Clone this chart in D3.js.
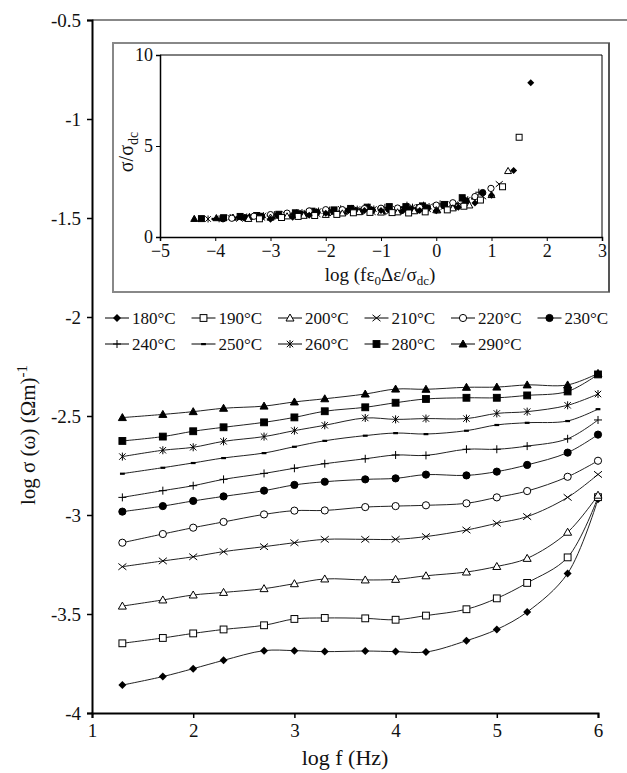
<!DOCTYPE html>
<html lang="en">
  <head>
    <meta charset="UTF-8">
    <title>Conductivity vs frequency</title>
    <script src="https://d3js.org/d3.v7.min.js"></script>
    <style>
      body { margin: 0; background: #fff; }
      text { font-family: "Liberation Serif", "Times New Roman", serif; fill: #111; }
    </style>
  </head>
  <body>

<script>
  // main chart: log f vs log sigma for each temperature
  const logF = [1.3, 1.7, 2.0, 2.3, 2.7, 3.0, 3.3, 3.7, 4.0, 4.3, 4.7, 5.0, 5.3, 5.7, 6.0];
  const temps = ["180°C", "190°C", "200°C", "210°C", "220°C", "230°C",
                 "240°C", "250°C", "260°C", "280°C", "290°C"];
  const markers = ["diamond", "squareOpen", "triOpen", "x", "circleOpen", "circle",
                   "plus", "dash", "star", "square", "tri"];

  const s180 = [-3.859, -3.816, -3.776, -3.734, -3.685, -3.685, -3.690, -3.687, -3.690, -3.692, -3.635, -3.578, -3.490, -3.295, -2.920];
  const s190 = [-3.648, -3.621, -3.598, -3.578, -3.557, -3.525, -3.520, -3.522, -3.529, -3.508, -3.476, -3.421, -3.343, -3.214, -2.910];
  const s200 = [-3.460, -3.429, -3.404, -3.391, -3.372, -3.347, -3.323, -3.328, -3.325, -3.307, -3.288, -3.260, -3.219, -3.087, -2.900];
  const s210 = [-3.261, -3.232, -3.211, -3.185, -3.160, -3.140, -3.123, -3.123, -3.123, -3.109, -3.076, -3.042, -3.008, -2.911, -2.795];
  const s220 = [-3.140, -3.096, -3.064, -3.035, -2.997, -2.978, -2.977, -2.960, -2.955, -2.951, -2.941, -2.911, -2.879, -2.807, -2.726];
  const s230 = [-2.983, -2.955, -2.929, -2.906, -2.877, -2.848, -2.832, -2.820, -2.815, -2.796, -2.800, -2.781, -2.747, -2.685, -2.594];
  const s240 = [-2.911, -2.877, -2.852, -2.820, -2.790, -2.764, -2.741, -2.716, -2.697, -2.699, -2.668, -2.668, -2.652, -2.615, -2.520];
  const s250 = [-2.791, -2.761, -2.737, -2.712, -2.687, -2.655, -2.625, -2.599, -2.586, -2.591, -2.574, -2.545, -2.534, -2.525, -2.465];
  const s260 = [-2.705, -2.673, -2.658, -2.628, -2.604, -2.574, -2.547, -2.510, -2.517, -2.513, -2.513, -2.487, -2.478, -2.446, -2.389];
  const s280 = [-2.626, -2.604, -2.577, -2.557, -2.532, -2.507, -2.476, -2.456, -2.433, -2.414, -2.408, -2.408, -2.396, -2.376, -2.290];
  const s290 = [-2.508, -2.492, -2.478, -2.461, -2.450, -2.429, -2.413, -2.389, -2.364, -2.365, -2.355, -2.354, -2.343, -2.343, -2.285];
  const mainSeries = [s180, s190, s200, s210, s220, s230, s240, s250, s260, s280, s290];

  const yTicks = [-4, -3.5, -3, -2.5, -2, -1.5, -1, -0.5];
  const xTicks = [1, 2, 3, 4, 5, 6];

  // inset: scaled conductivity vs scaled frequency
  const ix180 = [-3.0, -2.6, -2.3, -2.0, -1.6, -1.3, -1.0, -0.6, -0.3, 0.0, 0.4, 0.7, 1.0, 1.4, 1.71];
  const iy180 = [0.98, 1.08, 1.19, 1.31, 1.46, 1.46, 1.45, 1.45, 1.45, 1.44, 1.64, 1.87, 2.29, 3.65, 8.48];
  const ix190 = [-3.2, -2.8, -2.5, -2.2, -1.8, -1.5, -1.2, -0.8, -0.5, -0.2, 0.2, 0.5, 0.8, 1.2, 1.5];
  const iy190 = [1.0, 1.07, 1.13, 1.18, 1.24, 1.33, 1.35, 1.34, 1.32, 1.38, 1.49, 1.69, 2.03, 2.76, 5.48];
  const ix200 = [-3.4, -3.0, -2.7, -2.4, -2.0, -1.7, -1.4, -1.0, -0.7, -0.4, 0.0, 0.3, 0.6, 1.0, 1.3];
  const iy200 = [1.0, 1.07, 1.14, 1.17, 1.22, 1.30, 1.37, 1.35, 1.36, 1.42, 1.48, 1.58, 1.74, 2.31, 3.63];
  const ix210 = [-3.56, -3.16, -2.86, -2.56, -2.16, -1.86, -1.56, -1.16, -0.86, -0.56, -0.16, 0.14, 0.44, 0.84, 1.14];
  const iy210 = [1.0, 1.06, 1.12, 1.19, 1.26, 1.32, 1.37, 1.37, 1.37, 1.42, 1.53, 1.65, 1.79, 2.23, 2.91];
  const ix220 = [-3.7, -3.3, -3.0, -2.7, -2.3, -2.0, -1.7, -1.3, -1.0, -0.7, -0.3, 0.0, 0.3, 0.7, 0.99];
  const iy220 = [1.03, 1.14, 1.23, 1.31, 1.43, 1.50, 1.50, 1.56, 1.58, 1.59, 1.63, 1.75, 1.88, 2.22, 2.67];
  const ix230 = [-3.86, -3.46, -3.16, -2.86, -2.46, -2.16, -1.86, -1.46, -1.16, -0.86, -0.46, -0.16, 0.14, 0.54, 0.84];
  const iy230 = [1.0, 1.06, 1.13, 1.19, 1.27, 1.36, 1.41, 1.45, 1.47, 1.53, 1.52, 1.59, 1.72, 1.98, 2.44];
  const ix240 = [-3.93, -3.53, -3.23, -2.93, -2.53, -2.23, -1.93, -1.53, -1.23, -0.93, -0.53, -0.23, 0.07, 0.47, 0.77];
  const iy240 = [1.0, 1.07, 1.14, 1.23, 1.32, 1.40, 1.48, 1.57, 1.64, 1.63, 1.75, 1.75, 1.82, 1.98, 2.46];
  const ix250 = [-4.03, -3.63, -3.33, -3.03, -2.63, -2.33, -2.03, -1.63, -1.33, -1.03, -0.63, -0.33, -0.03, 0.37, 0.67];
  const iy250 = [1.0, 1.07, 1.13, 1.19, 1.26, 1.36, 1.46, 1.55, 1.60, 1.58, 1.64, 1.75, 1.80, 1.84, 2.12];
  const ix260 = [-4.13, -3.73, -3.43, -3.13, -2.73, -2.43, -2.13, -1.73, -1.43, -1.13, -0.73, -0.43, -0.13, 0.27, 0.57];
  const iy260 = [0.99, 1.07, 1.10, 1.18, 1.25, 1.34, 1.43, 1.55, 1.53, 1.54, 1.54, 1.64, 1.67, 1.80, 2.05];
  const ix280 = [-4.25, -3.85, -3.55, -3.25, -2.85, -2.55, -2.25, -1.85, -1.55, -1.25, -0.85, -0.55, -0.25, 0.15, 0.47];
  const iy280 = [1.01, 1.06, 1.13, 1.18, 1.25, 1.33, 1.42, 1.49, 1.57, 1.64, 1.67, 1.67, 1.71, 1.79, 2.16];
  const ix290 = [-4.38, -3.98, -3.68, -3.38, -2.98, -2.68, -2.38, -1.98, -1.68, -1.38, -0.98, -0.68, -0.38, 0.02, 0.32];
  const iy290 = [1.0, 1.04, 1.07, 1.11, 1.14, 1.20, 1.25, 1.32, 1.40, 1.40, 1.43, 1.43, 1.47, 1.47, 1.67];
  const insetX = [ix180, ix190, ix200, ix210, ix220, ix230, ix240, ix250, ix260, ix280, ix290];
  const insetY = [iy180, iy190, iy200, iy210, iy220, iy230, iy240, iy250, iy260, iy280, iy290];

  const insetXTicks = [-5, -4, -3, -2, -1, 0, 1, 2, 3];
  const insetYTicks = [0, 5, 10];

  const w = 627;
  const h = 773;

  const xScale = d3.scaleLinear().domain([1, 6]).range([92, 598]);
  const yScale = d3.scaleLinear().domain([-4, -0.5]).range([713, 20]);

  const ixScale = d3.scaleLinear().domain([-5, 3]).range([160, 602]);
  const iyScale = d3.scaleLinear().domain([0, 10]).range([237, 55]);

  const svg = d3.select("body")
                .append("svg")
                .attr("width", w)
                .attr("height", h);

  // draws one marker of the given kind centred on x,y
  function marker(g, kind, x, y, s) {
    const k = s / 2;
    const m = g.append("g").attr("transform", `translate(${x},${y})`);
    const line = (x1, y1, x2, y2) => m.append("line")
        .attr("x1", x1).attr("y1", y1).attr("x2", x2).attr("y2", y2)
        .attr("stroke", "#000").attr("stroke-width", 1);
    if (kind === "diamond") {
      m.append("path").attr("d", `M0,${-k}L${k},0L0,${k}L${-k},0Z`).attr("fill", "#000");
    } else if (kind === "squareOpen" || kind === "square") {
      m.append("rect").attr("x", -k * 0.85).attr("y", -k * 0.85)
        .attr("width", k * 1.7).attr("height", k * 1.7)
        .attr("fill", kind === "square" ? "#000" : "#fff").attr("stroke", "#000");
    } else if (kind === "triOpen" || kind === "tri") {
      m.append("path").attr("d", `M0,${-k}L${k},${k * 0.75}L${-k},${k * 0.75}Z`)
        .attr("fill", kind === "tri" ? "#000" : "#fff").attr("stroke", "#000");
    } else if (kind === "circleOpen" || kind === "circle") {
      m.append("circle").attr("r", k * 0.9)
        .attr("fill", kind === "circle" ? "#000" : "#fff").attr("stroke", "#000");
    } else if (kind === "x") {
      line(-k, -k * 0.8, k, k * 0.8);
      line(-k, k * 0.8, k, -k * 0.8);
    } else if (kind === "plus") {
      line(-k, 0, k, 0);
      line(0, -k, 0, k);
    } else if (kind === "dash") {
      m.append("rect").attr("x", -k * 0.6).attr("y", -1).attr("width", k * 1.2).attr("height", 2.2).attr("fill", "#000");
    } else if (kind === "star") {
      line(-k * 0.8, -k * 0.8, k * 0.8, k * 0.8);
      line(-k * 0.8, k * 0.8, k * 0.8, -k * 0.8);
      line(0, -k, 0, k);
    }
  }

  // main plot frame
  svg.append("line")
     .attr("x1", 92).attr("x2", w).attr("y1", 20).attr("y2", 20)
     .attr("stroke", "#888").attr("stroke-width", 2);

  const xAxis = d3.axisBottom(xScale).tickValues(xTicks).tickFormat(d3.format("d")).tickSizeOuter(0).tickSize(5).tickPadding(6);
  const gx = svg.append("g")
     .attr("transform", `translate(0, 713)`)
     .call(xAxis);

  const yAxis = d3.axisLeft(yScale).tickValues(yTicks).tickFormat(d => d).tickSizeOuter(0).tickSize(5).tickPadding(6);
  const gy = svg.append("g")
     .attr("transform", `translate(92, 0)`)
     .call(yAxis);

  [gx, gy].forEach(g => {
    g.select(".domain").attr("stroke", "#000").attr("stroke-width", 2);
    g.selectAll(".tick line").attr("stroke", "#000").attr("stroke-width", 1.5);
    g.selectAll(".tick text").attr("font-family", "Liberation Serif").attr("font-size", 19).attr("fill", "#111");
  });

  svg.append("text")
     .attr("x", 345).attr("y", 765)
     .attr("text-anchor", "middle").attr("font-size", 22)
     .text("log f (Hz)");

  const yl = svg.append("text")
     .attr("transform", "translate(35, 435) rotate(-90)")
     .attr("text-anchor", "middle").attr("font-size", 21);
  yl.append("tspan").text("log σ (ω) (Ωm)");
  yl.append("tspan").attr("dy", -8).attr("font-size", 15).text("-1");

  // series curves and markers
  const curve = d3.line()
                  .x(d => xScale(d[0]))
                  .y(d => yScale(d[1]))
                  .curve(d3.curveCatmullRom.alpha(0.5));

  mainSeries.forEach((vals, i) => {
    const pts = logF.map((f, j) => [f, vals[j]]);
    svg.append("path")
       .attr("d", curve(pts))
       .attr("fill", "none")
       .attr("stroke", "#222")
       .attr("stroke-width", 1);
  });
  mainSeries.forEach((vals, i) => {
    logF.forEach((f, j) => marker(svg, markers[i], xScale(f), yScale(vals[j]), 8));
  });

  // legend
  temps.forEach((t, i) => {
    const col = i < 6 ? i : i - 6;
    const row = i < 6 ? 0 : 1;
    const lx = 105 + col * 86.5;
    const ly = 318 + row * 26;
    svg.append("line")
       .attr("x1", lx).attr("x2", lx + 24).attr("y1", ly).attr("y2", ly)
       .attr("stroke", "#000").attr("stroke-width", 1);
    marker(svg, markers[i], lx + 12, ly, 8);
    svg.append("text")
       .attr("x", lx + 27).attr("y", ly + 6)
       .attr("font-size", 17)
       .text(t);
  });

  // inset box
  svg.append("rect")
     .attr("x", 113).attr("y", 43).attr("width", 496).attr("height", 249)
     .attr("fill", "#fff").attr("stroke", "#888").attr("stroke-width", 2);
  svg.append("line")
     .attr("x1", 609).attr("x2", 609).attr("y1", 43).attr("y2", 292)
     .attr("stroke", "#222").attr("stroke-width", 1);

  // inset frame
  svg.append("path")
     .attr("d", `M160,55H602V237`)
     .attr("fill", "none").attr("stroke", "#000").attr("stroke-width", 1);

  const ixAxis = d3.axisBottom(ixScale).tickValues(insetXTicks).tickFormat(d3.format("d")).tickSizeOuter(0).tickSize(4).tickPadding(3);
  const gix = svg.append("g").attr("transform", "translate(0, 237)").call(ixAxis);
  const iyAxis = d3.axisLeft(iyScale).tickValues(insetYTicks).tickFormat(d3.format("d")).tickSizeOuter(0).tickSize(4).tickPadding(3);
  const giy = svg.append("g").attr("transform", "translate(160, 0)").call(iyAxis);

  [gix, giy].forEach(g => {
    g.select(".domain").attr("stroke", "#000").attr("stroke-width", 1.5);
    g.selectAll(".tick line").attr("stroke", "#000");
    g.selectAll(".tick text").attr("font-family", "Liberation Serif").attr("font-size", 18).attr("fill", "#111");
  });

  const ixl = svg.append("text")
     .attr("x", 380).attr("y", 281)
     .attr("text-anchor", "middle").attr("font-size", 19);
  ixl.append("tspan").text("log (fε");
  ixl.append("tspan").attr("dy", 4).attr("font-size", 13).text("0");
  ixl.append("tspan").attr("dy", -4).text("Δε/σ");
  ixl.append("tspan").attr("dy", 4).attr("font-size", 13).text("dc");
  ixl.append("tspan").attr("dy", -4).text(")");

  const iyl = svg.append("text")
     .attr("transform", "translate(133, 152) rotate(-90)")
     .attr("text-anchor", "middle").attr("font-size", 20);
  iyl.append("tspan").text("σ/σ");
  iyl.append("tspan").attr("dy", 5).attr("font-size", 14).text("dc");

  // inset markers, drawn from the hottest series down
  for (let i = insetX.length - 1; i >= 0; i--) {
    insetX[i].forEach((x, j) => marker(svg, markers[i], ixScale(x), iyScale(insetY[i][j]), 7));
  }
</script>

  </body>
</html>
